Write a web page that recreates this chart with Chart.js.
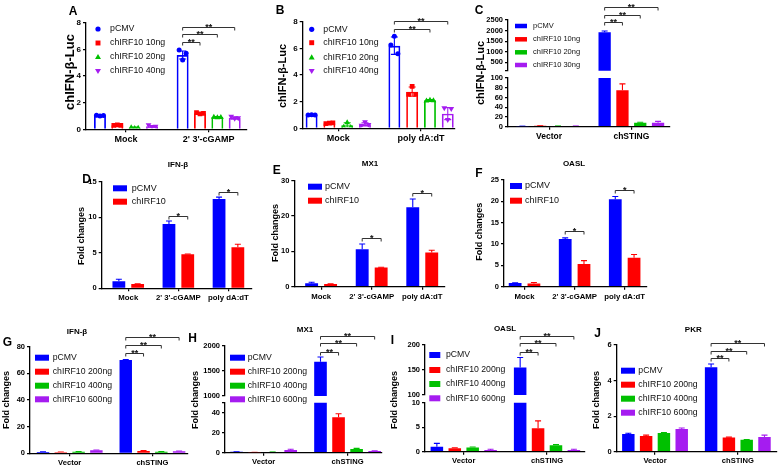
<!DOCTYPE html>
<html><head><meta charset="utf-8">
<script src="https://cdn.jsdelivr.net/npm/chart.js@4.4.1/dist/chart.umd.min.js"></script>
<style>
html,body{margin:0;padding:0;background:#fff;}
#wrap{position:relative;width:779px;height:468px;overflow:hidden;background:#fff;}
canvas{position:absolute;left:0;top:0;}
</style></head><body><div id="wrap"></div>
<script>
// ================= DATA =================
const seriesAB = ['pCMV', 'chIRF10 10ng', 'chIRF10 20ng', 'chIRF10 40ng'];
const seriesC = ['pCMV', 'chIRF10 10ng', 'chIRF10 20ng', 'chIRF10 30ng'];
const seriesDEF = ['pCMV', 'chIRF10'];
const seriesGJ = ['pCMV', 'chIRF10 200ng', 'chIRF10 400ng', 'chIRF10 600ng'];

const catsA = ['Mock', "2' 3'-cGAMP"];
const meanA = [[1.03, 5.58], [0.31, 1.20], [0.13, 0.92], [0.22, 0.86]];
const errA = [[0.03, 0.30], [0.02, 0.05], [0.03, 0.03], [0.07, 0.08]];
const ptsA = [
  [[1.05, 1.00, 1.03], [5.95, 5.20, 5.70]],
  [[0.30, 0.33, 0.30], [1.25, 1.15, 1.20]],
  [[0.15, 0.10, 0.12], [0.95, 0.90, 0.92]],
  [[0.30, 0.15, 0.20], [0.95, 0.80, 0.82]]
];
const yTicksA = [0, 2, 4, 6, 8];

const catsB = ['Mock', 'poly dA:dT'];
const meanB = [[1.00, 6.20], [0.37, 2.75], [0.22, 2.10], [0.30, 1.10]];
const errB = [[0.02, 0.65], [0.03, 0.35], [0.20, 0.05], [0.12, 0.45]];
const ptsB = [
  [[1.00, 1.02, 1.00], [6.25, 6.90, 5.60]],
  [[0.35, 0.38, 0.40], [2.55, 3.15, 2.55]],
  [[0.12, 0.45, 0.10], [2.08, 2.15, 2.10]],
  [[0.20, 0.45, 0.25], [1.50, 0.62, 1.45]]
];
const yTicksB = [0, 2, 4, 6, 8];

const catsC = ['Vector', 'chSTING'];
const meanC = [[1, 1920], [2, 75], [1.5, 8], [1.5, 8]];
const errC = [[0.3, 60], [0.5, 13], [0.3, 1], [0.3, 3]];
const yTicksCTop = [100, 500, 1000, 1500, 2000, 2500];
const yTicksCBot = [0, 20, 40, 60, 80, 100];

const catsDEF = ['Mock', "2' 3'-cGAMP", 'poly dA:dT'];
const meanD = [[1.00, 9.05, 12.55], [0.62, 4.78, 5.77]];
const errD = [[0.27, 0.42, 0.28], [0.02, 0.05, 0.42]];
const yTicksD = [0, 5, 10, 15];
const meanE = [[0.95, 10.6, 22.5], [0.75, 5.4, 9.7]];
const errE = [[0.3, 1.5, 2.3], [0.1, 0.1, 0.6]];
const yTicksE = [0, 10, 20, 30];
const meanF = [[0.86, 11.2, 20.5], [0.75, 5.3, 6.8]];
const errF = [[0.05, 0.25, 0.65], [0.25, 0.8, 0.75]];
const yTicksF = [0, 5, 10, 15, 20, 25];

const catsGJ = ['Vector', 'chSTING'];
const meanG = [[1.0, 70], [0.8, 1.8], [1.2, 1.2], [2.2, 1.5]];
const errG = [[0.1, 0.4], [0.2, 0.2], [0.2, 0.2], [0.3, 0.2]];
const yTicksG = [0, 20, 40, 60, 80];
const meanH = [[1.0, 1680], [0.4, 35.5], [0.8, 3.8], [2.8, 1.6]];
const errH = [[0.2, 95], [0.1, 3.5], [0.2, 0.5], [0.6, 0.4]];
const yTicksHTop = [1000, 1500, 2000];
const yTicksHBot = [0, 20, 40, 50];
const meanI = [[1.0, 155], [0.7, 4.8], [0.85, 1.3], [0.35, 0.35]];
const errI = [[0.7, 20], [0.1, 1.5], [0.1, 0.15], [0.15, 0.15]];
const yTicksITop = [100, 150, 200];
const yTicksIBot = [0, 5, 10];
const meanJ = [[1.0, 4.75], [0.88, 0.8], [1.05, 0.67], [1.28, 0.83]];
const errJ = [[0.04, 0.18], [0.05, 0.02], [0.03, 0.02], [0.05, 0.1]];
const yTicksJ = [0, 2, 4, 6];

// significance: [category, from series, to series, level (data units), label]
const sigA = [[1, 0, 1, 6.53, '**'], [1, 0, 2, 7.13, '**'], [1, 0, 3, 7.70, '**']];
const sigB = [[1, 0, 2, 7.43, '**'], [1, 0, 3, 8.07, '**']];
const sigC = [[1, 0, 1, 2420, '**'], [1, 0, 2, 2736, '**'], [1, 0, 3, 3100, '**']];
const sigD = [[1, 0, 1, 10.17, '*'], [2, 0, 1, 13.59, '*']];
const sigE = [[1, 0, 1, 13.87, '*'], [2, 0, 1, 26.6, '*']];
const sigF = [[1, 0, 1, 13.05, '*'], [2, 0, 1, 22.66, '*']];
const sigG = [[1, 0, 1, 75.5, '**'], [1, 0, 2, 81.3, '**'], [1, 0, 3, 87.1, '**']];
const sigH = [[1, 0, 1, 1880, '**'], [1, 0, 2, 2048, '**'], [1, 0, 3, 2193, '**']];
const sigI = [[1, 0, 1, 186.6, '**'], [1, 0, 2, 203.4, '**'], [1, 0, 3, 218, '**']];
const sigJ = [[1, 0, 1, 5.25, '**'], [1, 0, 2, 5.68, '**'], [1, 0, 3, 6.1, '**']];

// ================= STYLE / LAYOUT =================
const C4 = ['#0000ff', '#ff0000', '#00c000', '#a51cf0'];
const C2 = ['#0000ff', '#ff0000'];
const SH4 = ['circle', 'rect', 'triangle', 'down'];
const FONT = '"Liberation Sans", Arial, Helvetica, sans-serif';
const W = 779, H = 468, YW = 30;
const wrap = document.getElementById('wrap');

function marker(ctx, style, x, y, r) {
  ctx.beginPath();
  if (style === 'circle') ctx.arc(x, y, r, 0, Math.PI * 2);
  else if (style === 'rect') ctx.rect(x - r * 0.95, y - r * 0.95, r * 1.9, r * 1.9);
  else if (style === 'triangle') { ctx.moveTo(x, y - r * 1.2); ctx.lineTo(x + r * 1.15, y + r * 0.8); ctx.lineTo(x - r * 1.15, y + r * 0.8); ctx.closePath(); }
  else { ctx.moveTo(x, y + r * 1.2); ctx.lineTo(x + r * 1.15, y - r * 0.8); ctx.lineTo(x - r * 1.15, y - r * 0.8); ctx.closePath(); }
  ctx.fill();
}

function decor(o) {
  return {
    id: 'decor',
    afterDatasetsDraw(chart) {
      const ctx = chart.ctx, ys = chart.scales.y, a = chart.chartArea;
      const meta = o.series.map((s, i) => chart.getDatasetMeta(i));
      ctx.save();
      ctx.beginPath();
      ctx.rect(a.left - 6, a.top - 1, a.right - a.left + 12, a.bottom - a.top);
      ctx.clip();
      o.series.forEach((s, si) => {
        o.mean[si].forEach((m, ci) => {
          const e = o.err[si][ci];
          const x = meta[si].data[ci].x;
          if (e) {
            const yT = ys.getPixelForValue(m + e), yM = ys.getPixelForValue(m);
            const yB = o.hollow ? ys.getPixelForValue(Math.max(m - e, 0)) : yM;
            ctx.strokeStyle = o.colors[si];
            ctx.lineWidth = 1.1;
            ctx.beginPath();
            ctx.moveTo(x, yB); ctx.lineTo(x, yT);
            ctx.moveTo(x - o.cap, yT); ctx.lineTo(x + o.cap, yT);
            if (o.hollow) { ctx.moveTo(x - o.cap, yB); ctx.lineTo(x + o.cap, yB); }
            ctx.stroke();
          }
          if (o.pts) {
            ctx.fillStyle = o.colors[si];
            const offs = [-3.5, 0, 3.5];
            o.pts[si][ci].forEach((p, k) => marker(ctx, o.shapes[si], x + offs[k], ys.getPixelForValue(p), 2.5));
          }
        });
      });
      ctx.restore();
      if (!o.main) return;
      ctx.save();
      // significance brackets
      (o.sig || []).forEach(([ci, s1, s2, lvl, lab]) => {
        const x1 = meta[s1].data[ci].x, x2 = meta[s2].data[ci].x, y = Math.round(ys.getPixelForValue(lvl)) + 0.5;
        ctx.strokeStyle = '#333'; ctx.lineWidth = 1;
        ctx.beginPath();
        ctx.moveTo(x1, y + 3); ctx.lineTo(x1, y); ctx.lineTo(x2, y); ctx.lineTo(x2, y + 3);
        ctx.stroke();
        ctx.fillStyle = '#111';
        ctx.font = 'bold ' + o.sigFont + 'px ' + FONT;
        ctx.textAlign = 'center'; ctx.textBaseline = 'alphabetic';
        ctx.fillText(lab, (x1 + x2) / 2, y + 2);
      });
      // legend
      const L = o.legend;
      o.series.forEach((s, si) => {
        const y = L.rows[si];
        ctx.fillStyle = o.colors[si];
        if (L.type === 'point') marker(ctx, o.shapes[si], L.mx, y, 2.6);
        else ctx.fillRect(L.mx, y - L.h / 2, L.w, L.h);
        ctx.fillStyle = '#111';
        ctx.font = L.font + 'px ' + FONT;
        ctx.textAlign = 'left'; ctx.textBaseline = 'middle';
        ctx.fillText(s, L.tx, y);
      });
      // texts
      (o.texts || []).forEach(t => {
        ctx.save();
        ctx.translate(t.x, t.y);
        if (t.rot) ctx.rotate(-Math.PI / 2);
        ctx.font = 'bold ' + t.s + 'px ' + FONT;
        ctx.fillStyle = '#000';
        ctx.textAlign = 'center'; ctx.textBaseline = 'middle';
        ctx.fillText(t.t, 0, 0);
        ctx.restore();
      });
      ctx.restore();
    }
  };
}

function panel(o) {
  const cv = document.createElement('canvas');
  cv.width = W; cv.height = H;
  wrap.appendChild(cv);
  const xh = o.showX ? Math.min(17, H - o.area[3]) : 0;
  const datasets = o.series.map((name, si) => ({
    label: name,
    data: o.mean[si].map((v, ci) => ({x: ci, y: v})),
    backgroundColor: o.hollow ? 'rgba(255,255,255,0)' : o.colors[si],
    borderColor: o.colors[si],
    borderWidth: o.hollow ? 1.7 : 0,
    categoryPercentage: o.catPct,
    barPercentage: o.barPct,
    clip: 0
  }));
  return new Chart(cv, {
    type: 'bar',
    data: {datasets},
    options: {
      responsive: false, animation: false, devicePixelRatio: 1,
      layout: {padding: {left: o.area[0] - YW, right: W - o.area[1], top: o.area[2], bottom: H - xh - o.area[3]}},
      plugins: {legend: {display: false}, tooltip: {enabled: false}},
      scales: {
        x: {
          type: 'linear', min: o.xRange[0], max: o.xRange[1], offset: false, bounds: 'data', display: !!o.showX,
          afterBuildTicks: s => { s.ticks = o.cats.map((c, i) => ({value: i})); },
          afterFit: s => { s.height = xh; },
          grid: {offset: false, drawOnChartArea: false, drawTicks: true, tickLength: 3, color: '#000', lineWidth: 1.2},
          border: {display: true, color: '#000', width: 1.3},
          ticks: {autoSkip: false, maxRotation: 0, minRotation: 0, padding: 2, color: '#000',
            font: {family: FONT, weight: 'bold', size: o.xFont},
            callback: v => (o.cats[v] !== undefined ? o.cats[v] : '')}
        },
        y: {
          type: 'linear', min: o.yRange[0], max: o.yRange[1], bounds: 'data',
          afterBuildTicks: s => { s.ticks = o.yTicks.map(v => ({value: v})); },
          afterFit: s => { s.width = YW; },
          grid: {drawOnChartArea: false, drawTicks: true, tickLength: 3, color: '#000', lineWidth: 1.2},
          border: {display: true, color: '#000', width: 1.3},
          ticks: {autoSkip: false, padding: 2, color: '#000', font: {family: FONT, weight: 'bold', size: o.yFont || 7.5, lineHeight: 1},
            callback: v => ((o.yHide || []).includes(v) ? '' : String(v))}
        }
      }
    },
    plugins: [decor(o)]
  });
}

// ---------- A ----------
panel({series: seriesAB, cats: catsA, mean: meanA, err: errA, pts: ptsA, shapes: SH4, colors: C4, hollow: true,
  area: [86, 246.7, 22.7, 129.3], xRange: [-0.484, 1.46], yRange: [0, 8], yTicks: yTicksA, yFont: 8,
  catPct: 0.84, barPct: 0.69, showX: true, xFont: 9, cap: 3.5, main: true, sig: sigA, sigFont: 9,
  legend: {type: 'point', mx: 98, tx: 110, rows: [29, 43, 57, 71], font: 8.8},
  texts: [{t: 'A', x: 73, y: 12, s: 12}, {t: 'chIFN-β-Luc', x: 70, y: 72, s: 13, rot: true}]});
// ---------- B ----------
panel({series: seriesAB, cats: catsB, mean: meanB, err: errB, pts: ptsB, shapes: SH4, colors: C4, hollow: true,
  area: [302.7, 455, 21.7, 128.3], xRange: [-0.43, 1.41], yRange: [0, 8], yTicks: yTicksB, yFont: 8,
  catPct: 0.86, barPct: 0.67, showX: true, xFont: 9, cap: 3.5, main: true, sig: sigB, sigFont: 9,
  legend: {type: 'point', mx: 311.7, tx: 323.3, rows: [29.3, 42.7, 57.3, 71], font: 8.8},
  texts: [{t: 'B', x: 280, y: 11, s: 12}, {t: 'chIFN-β-Luc', x: 283.3, y: 76, s: 11, rot: true}]});
// ---------- C (broken axis) ----------
panel({series: seriesC, cats: catsC, mean: meanC, err: errC, colors: C4,
  area: [508, 670, 20, 70.8], xRange: [-0.5, 1.47], yRange: [100, 2500], yTicks: yTicksCTop, yHide: [100],
  catPct: 0.866, barPct: 0.69, showX: false, xFont: 8.5, cap: 3, main: true, sig: sigC, sigFont: 9,
  legend: {type: 'rect', mx: 515, w: 12, h: 4.5, tx: 533, rows: [26, 39.3, 52.3, 65], font: 7.5},
  texts: [{t: 'C', x: 479, y: 11, s: 12}, {t: 'chIFN-β-Luc', x: 480.7, y: 73, s: 11, rot: true}]});
panel({series: seriesC, cats: catsC, mean: meanC, err: errC, colors: C4,
  area: [508, 670, 78, 126.7], xRange: [-0.5, 1.47], yRange: [0, 100], yTicks: yTicksCBot,
  catPct: 0.866, barPct: 0.69, showX: true, xFont: 8.5, cap: 3, main: false});
// ---------- D ----------
panel({series: seriesDEF, cats: catsDEF, mean: meanD, err: errD, colors: C2,
  area: [101.7, 252, 181.7, 288.3], xRange: [-0.53, 2.47], yRange: [0, 15], yTicks: yTicksD,
  catPct: 0.75, barPct: 0.68, showX: true, xFont: 7.8, cap: 3, main: true, sig: sigD, sigFont: 9,
  legend: {type: 'rect', mx: 113, w: 14, h: 6, tx: 131.7, rows: [188.3, 201.7], font: 9},
  texts: [{t: 'D', x: 86.7, y: 179.7, s: 12}, {t: 'IFN-β', x: 178, y: 165, s: 8}, {t: 'Fold changes', x: 81.7, y: 236, s: 9, rot: true}]});
// ---------- E ----------
panel({series: seriesDEF, cats: catsDEF, mean: meanE, err: errE, colors: C2,
  area: [294.3, 445, 180.7, 286.7], xRange: [-0.53, 2.45], yRange: [0, 30], yTicks: yTicksE,
  catPct: 0.75, barPct: 0.68, showX: true, xFont: 7.8, cap: 3, main: true, sig: sigE, sigFont: 9,
  legend: {type: 'rect', mx: 308, w: 14, h: 6, tx: 325, rows: [186.7, 200.7], font: 9},
  texts: [{t: 'E', x: 276.7, y: 170.7, s: 12}, {t: 'MX1', x: 370, y: 164, s: 8}, {t: 'Fold changes', x: 275.7, y: 233, s: 9, rot: true}]});
// ---------- F ----------
panel({series: seriesDEF, cats: catsDEF, mean: meanF, err: errF, colors: C2,
  area: [504, 646.7, 180, 286.7], xRange: [-0.41, 2.44], yRange: [0, 25], yTicks: yTicksF,
  catPct: 0.75, barPct: 0.68, showX: true, xFont: 7.8, cap: 3, main: true, sig: sigF, sigFont: 9,
  legend: {type: 'rect', mx: 510, w: 12, h: 6, tx: 525, rows: [186, 200.7], font: 9},
  texts: [{t: 'F', x: 479, y: 173.3, s: 12}, {t: 'OASL', x: 574, y: 164, s: 8}, {t: 'Fold changes', x: 480, y: 231.7, s: 9, rot: true}]});
// ---------- G ----------
panel({series: seriesGJ, cats: catsGJ, mean: meanG, err: errG, colors: C4,
  area: [30, 188, 346.7, 453.3], xRange: [-0.48, 1.43], yRange: [0, 80], yTicks: yTicksG,
  catPct: 0.86, barPct: 0.70, showX: true, xFont: 7.6, cap: 3, main: true, sig: sigG, sigFont: 9,
  legend: {type: 'rect', mx: 35, w: 14, h: 6, tx: 52.7, rows: [357.7, 371.7, 385.7, 399.3], font: 8.7},
  texts: [{t: 'G', x: 7.5, y: 342.5, s: 12}, {t: 'IFN-β', x: 77, y: 331.7, s: 8}, {t: 'Fold changes', x: 6.7, y: 400, s: 9, rot: true}]});
// ---------- H (broken axis) ----------
panel({series: seriesGJ, cats: catsGJ, mean: meanH, err: errH, colors: C4,
  area: [225, 382, 345.7, 396], xRange: [-0.46, 1.41], yRange: [1000, 2000], yTicks: yTicksHTop,
  catPct: 0.86, barPct: 0.70, showX: false, xFont: 7.6, cap: 3, main: true, sig: sigH, sigFont: 9,
  legend: {type: 'rect', mx: 230, w: 15, h: 6, tx: 247.7, rows: [357.7, 371.7, 385.7, 399.3], font: 8.7},
  texts: [{t: 'H', x: 192.5, y: 339, s: 12}, {t: 'MX1', x: 305, y: 329.3, s: 8}, {t: 'Fold changes', x: 196, y: 400, s: 9, rot: true}]});
panel({series: seriesGJ, cats: catsGJ, mean: meanH, err: errH, colors: C4,
  area: [225, 382, 402.7, 452.7], xRange: [-0.46, 1.41], yRange: [0, 50], yTicks: yTicksHBot, yHide: [50],
  catPct: 0.86, barPct: 0.70, showX: true, xFont: 7.6, cap: 3, main: false});
// ---------- I (broken axis) ----------
panel({series: seriesGJ, cats: catsGJ, mean: meanI, err: errI, colors: C4,
  area: [425, 585, 345, 395], xRange: [-0.465, 1.456], yRange: [100, 200], yTicks: yTicksITop,
  catPct: 0.86, barPct: 0.70, showX: false, xFont: 7.6, cap: 3, main: true, sig: sigI, sigFont: 9,
  legend: {type: 'rect', mx: 429.3, w: 11, h: 6, tx: 446, rows: [355, 370, 384, 398.3], font: 8.7},
  texts: [{t: 'I', x: 392.5, y: 341, s: 12}, {t: 'OASL', x: 505, y: 328.3, s: 8}, {t: 'Fold changes', x: 395, y: 400, s: 9, rot: true}]});
panel({series: seriesGJ, cats: catsGJ, mean: meanI, err: errI, colors: C4,
  area: [425, 585, 402.7, 451.7], xRange: [-0.465, 1.456], yRange: [0, 10], yTicks: yTicksIBot,
  catPct: 0.86, barPct: 0.70, showX: true, xFont: 7.6, cap: 3, main: false});
// ---------- J ----------
panel({series: seriesGJ, cats: catsGJ, mean: meanJ, err: errJ, colors: C4,
  area: [616.7, 776.7, 345, 451.7], xRange: [-0.463, 1.47], yRange: [0, 6], yTicks: yTicksJ,
  catPct: 0.86, barPct: 0.70, showX: true, xFont: 7.6, cap: 3, main: true, sig: sigJ, sigFont: 9,
  legend: {type: 'rect', mx: 621, w: 14, h: 6, tx: 638.3, rows: [370.7, 384.7, 398.7, 412.7], font: 8.7},
  texts: [{t: 'J', x: 597.5, y: 333.3, s: 12}, {t: 'PKR', x: 693.3, y: 329.3, s: 8}, {t: 'Fold changes', x: 596.7, y: 400, s: 9, rot: true}]});
</script></body></html>
